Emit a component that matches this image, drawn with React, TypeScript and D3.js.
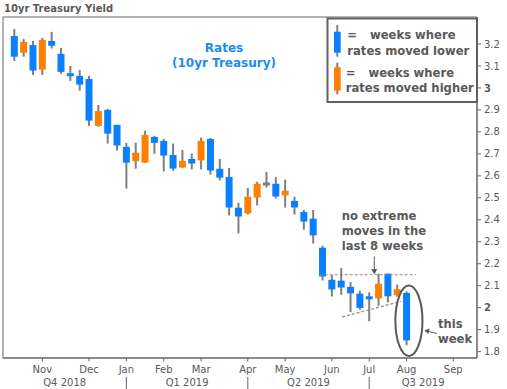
import React from "react";
import * as d3 from "d3";

// Weekly candles (week index 0 = week ending Oct 12, 2018)
const opens = [3.236, 3.16, 3.195, 3.083, 3.214, 3.155, 3.064, 3.055, 3.041, 2.827, 2.9, 2.832, 2.732, 2.667, 2.66, 2.777, 2.759, 2.695, 2.638, 2.677, 2.67, 2.768, 2.632, 2.595, 2.455, 2.429, 2.501, 2.563, 2.564, 2.511, 2.486, 2.436, 2.405, 2.273, 2.127, 2.123, 2.095, 2.064, 2.052, 2.042, 2.155, 2.057, 2.067];
const highs = [3.268, 3.223, 3.214, 3.227, 3.255, 3.182, 3.1, 3.082, 3.055, 2.923, 2.905, 2.832, 2.75, 2.751, 2.805, 2.782, 2.768, 2.747, 2.718, 2.701, 2.774, 2.773, 2.677, 2.636, 2.477, 2.545, 2.573, 2.618, 2.595, 2.582, 2.505, 2.445, 2.445, 2.282, 2.148, 2.18, 2.117, 2.077, 2.07, 2.155, 2.155, 2.105, 2.074];
const lows = [3.123, 3.142, 3.059, 3.059, 3.179, 3.064, 3.032, 2.988, 2.827, 2.823, 2.747, 2.715, 2.542, 2.632, 2.659, 2.7, 2.62, 2.623, 2.636, 2.629, 2.629, 2.606, 2.579, 2.42, 2.338, 2.424, 2.465, 2.547, 2.497, 2.456, 2.424, 2.355, 2.292, 2.124, 2.051, 2.059, 1.98, 1.991, 1.938, 2.009, 2.024, 2.05, 1.829];
const closes = [3.142, 3.209, 3.079, 3.218, 3.192, 3.073, 3.056, 3.015, 2.851, 2.895, 2.792, 2.738, 2.66, 2.705, 2.786, 2.75, 2.692, 2.633, 2.668, 2.656, 2.759, 2.624, 2.592, 2.456, 2.415, 2.505, 2.564, 2.563, 2.506, 2.532, 2.456, 2.392, 2.329, 2.142, 2.083, 2.092, 2.065, 1.999, 2.038, 2.109, 2.052, 2.084, 1.851];

const monthLabels = ["Nov", "Dec", "Jan", "Feb", "Mar", "Apr", "May", "Jun", "Jul", "Aug", "Sep"];
const monthWeeks = [3, 8, 12, 16, 20, 25, 29, 34, 38, 42, 47];
const quarterLabels = ["Q4 2018", "Q1 2019", "Q2 2019", "Q3 2019"];
const quarterStartWeeks = [12, 25, 38];
const yTicks = [3.2, 3.1, 3.0, 2.9, 2.8, 2.7, 2.6, 2.5, 2.4, 2.3, 2.2, 2.1, 2.0, 1.9, 1.8];

// annotation geometry in data units (week index, yield)
const rangeTop = { x1: 32.7, x2: 43.0, y: 2.15 };
const trendLine = { x1: 35.1, y1: 1.958, x2: 41.4, y2: 2.029 };
const ellipseBox = { x1: 40.8, x2: 43.7, y1: 2.101, y2: 1.78 };

const BLUE = "#0a80ff";
const ORANGE = "#ff8000";
const GRAY = "#7f7f7f";
const TEXT = "#595959";
const FONT = "'DejaVu Sans', Verdana, sans-serif";

const W = 507;
const H = 389;
const L = 3, R = 477, T = 17, B = 358;

export default function App() {
  const x = d3.scaleLinear().domain([-1.21, 49.54]).range([L, R]);
  const y = d3.scaleLinear().domain([1.7711, 3.3227]).range([B, T]);
  const fmt = d3.format(".1~f");
  const bodyW = 7;

  const candles = opens.map((o, i) => ({ i, o, h: highs[i], l: lows[i], c: closes[i] }));

  const qBounds = [L, ...quarterStartWeeks.map((w) => x(w)), R];

  return (
    <svg width={W} height={H} style={{ position: "fixed", left: 0, top: 0, background: "#fff" }} fontFamily={FONT}>
      <rect x={0} y={0} width={W} height={H} fill="#fff" />
      {/* title */}
      <text x={4} y={11.5} fontSize={10} fontWeight="bold" fill={TEXT}>10yr Treasury Yield</text>

      {/* frame */}
      <line x1={L} x2={R} y1={T} y2={T} stroke="#666" strokeWidth={1} />
      <line x1={L} x2={L} y1={T} y2={B} stroke="#666" strokeWidth={1} />
      <line x1={L} x2={R} y1={B} y2={B} stroke="#666" strokeWidth={1.5} />
      <line x1={R} x2={R} y1={T} y2={B} stroke="#666" strokeWidth={1.5} />

      {/* y axis */}
      {yTicks.map((t) => (
        <g key={t}>
          <line x1={R} x2={R + 4} y1={y(t)} y2={y(t)} stroke="#666" />
          <text x={R + 7} y={y(t) + 3.6} fontSize={10} fill={TEXT} fontWeight={Number.isInteger(t) ? "bold" : "normal"}>{fmt(t)}</text>
        </g>
      ))}

      {/* x axis */}
      {monthWeeks.map((w, k) => (
        <g key={w}>
          <line x1={x(w)} x2={x(w)} y1={B} y2={B + 3.5} stroke="#666" />
          <text x={x(w)} y={372.5} fontSize={10} fill={TEXT} textAnchor="middle">{monthLabels[k]}</text>
        </g>
      ))}
      {quarterStartWeeks.map((w) => (
        <line key={w} x1={x(w)} x2={x(w)} y1={377} y2={H} stroke="#666" strokeWidth={1} />
      ))}
      {quarterLabels.map((q, k) => (
        <text key={q} x={(qBounds[k] + qBounds[k + 1]) / 2} y={386} fontSize={10} fill={TEXT} textAnchor="middle">{q}</text>
      ))}

      {/* candles */}
      {candles.map((d) => {
        const col = d.c < d.o ? BLUE : d.c > d.o ? ORANGE : GRAY;
        const top = y(Math.max(d.o, d.c));
        const bot = y(Math.min(d.o, d.c));
        const bh = Math.max(bot - top, 3);
        const cx = x(d.i);
        return (
          <g key={d.i}>
            <line x1={cx} x2={cx} y1={y(d.h)} y2={y(d.l)} stroke={GRAY} strokeWidth={2} />
            <rect x={cx - bodyW / 2} y={bot - top < 3 ? (top + bot) / 2 - 1.5 : top} width={bodyW} height={bh} fill={col} />
          </g>
        );
      })}

      {/* Rates label */}
      <text x={224} y={51.5} fontSize={12} fontWeight="bold" fill="#1a8cf5" textAnchor="middle">Rates</text>
      <text x={224} y={67} fontSize={12} fontWeight="bold" fill="#1a8cf5" textAnchor="middle">(10yr Treasury)</text>

      {/* legend */}
      <rect x={327.5} y={18.5} width={149.5} height={83.5} fill="#fff" stroke="#606060" strokeWidth={2} />
      <line x1={337.3} x2={337.3} y1={25} y2={56.7} stroke={GRAY} strokeWidth={2} />
      <rect x={334} y={31.7} width={6.7} height={21} fill={BLUE} />
      <line x1={337.3} x2={337.3} y1={62.7} y2={94.3} stroke={GRAY} strokeWidth={2} />
      <rect x={334} y={67.3} width={6.7} height={23.4} fill={ORANGE} />
      <g fontSize={11.6} fontWeight="bold" fill={TEXT}>
        <text x={347.3} y={39.3}>=</text>
        <text x={370} y={39.3}>weeks where</text>
        <text x={347.3} y={55}>rates moved lower</text>
        <text x={345.7} y={76.7}>=</text>
        <text x={368.5} y={76.7}>weeks where</text>
        <text x={345.7} y={92.3}>rates moved higher</text>
      </g>

      {/* annotations */}
      <line x1={x(rangeTop.x1)} x2={x(rangeTop.x2)} y1={y(rangeTop.y)} y2={y(rangeTop.y)} stroke="#8c8c8c" strokeWidth={1.2} strokeDasharray="3,2" />
      <line x1={x(trendLine.x1)} x2={x(trendLine.x2)} y1={y(trendLine.y1)} y2={y(trendLine.y2)} stroke="#8c8c8c" strokeWidth={1.2} strokeDasharray="3,2" />
      <ellipse
        cx={(x(ellipseBox.x1) + x(ellipseBox.x2)) / 2}
        cy={(y(ellipseBox.y1) + y(ellipseBox.y2)) / 2}
        rx={(x(ellipseBox.x2) - x(ellipseBox.x1)) / 2}
        ry={(y(ellipseBox.y2) - y(ellipseBox.y1)) / 2}
        fill="none"
        stroke="#595959"
        strokeWidth={2}
      />
      <g fontSize={11.6} fontWeight="bold" fill={TEXT}>
        <text x={341.7} y={220}>no extreme</text>
        <text x={341.7} y={235}>moves in the</text>
        <text x={341.7} y={250}>last 8 weeks</text>
        <text x={438} y={327.7}>this</text>
        <text x={438} y={343.3}>week</text>
      </g>
      <line x1={374.3} x2={374.3} y1={256.5} y2={270} stroke={TEXT} strokeWidth={1} />
      <path d="M371.3,269 L377.3,269 L374.3,274.5 Z" fill={TEXT} />
      <line x1={437} y1={333.5} x2={428} y2={331.3} stroke={TEXT} strokeWidth={1} />
      <path d="M424.3,330.4 L429.6,328.6 L428.4,334 Z" fill={TEXT} />
    </svg>
  );
}
